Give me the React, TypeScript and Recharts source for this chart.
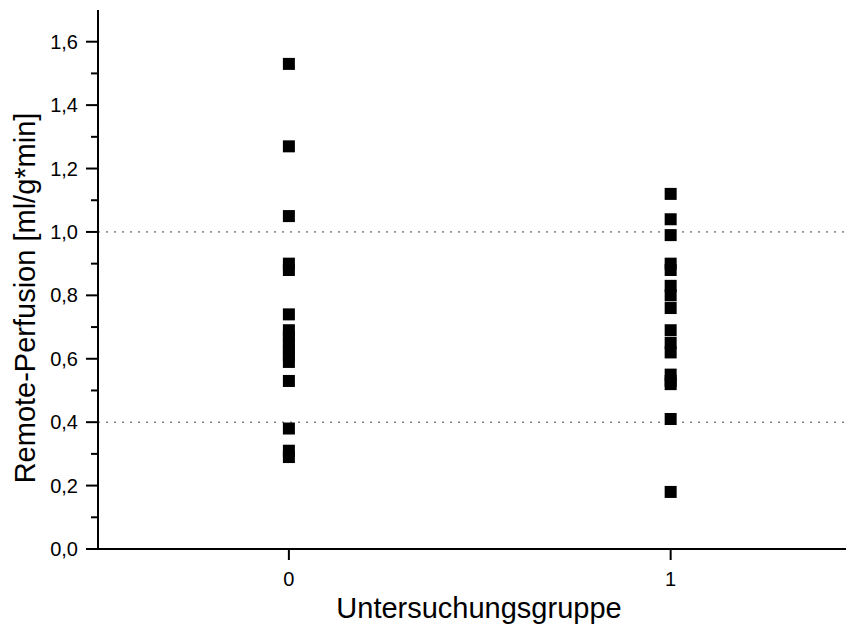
import { ScatterChart, Scatter, XAxis, YAxis, ReferenceLine } from 'recharts'

// Untersuchungsgruppe 0 und 1, Remote-Perfusion in ml/g*min
const gruppe0 = [1.53, 1.27, 1.05, 0.9, 0.88, 0.74, 0.69, 0.67, 0.65, 0.63, 0.61, 0.59, 0.53, 0.38, 0.31, 0.29]
const gruppe1 = [1.12, 1.04, 0.99, 0.9, 0.88, 0.83, 0.8, 0.76, 0.69, 0.65, 0.62, 0.55, 0.53, 0.52, 0.41, 0.18]

const yTicks = [0, 0.1, 0.2, 0.3, 0.4, 0.5, 0.6, 0.7, 0.8, 0.9, 1.0, 1.1, 1.2, 1.3, 1.4, 1.5, 1.6]
const xTicks = [0, 1]
const refLines = [0.4, 1.0]

const data = [
  ...gruppe0.map((v) => ({ gruppe: 0, wert: v })),
  ...gruppe1.map((v) => ({ gruppe: 1, wert: v })),
]

const font = 'Liberation Sans, Arial, sans-serif'

// Haupt-Ticks alle 0,2 mit Beschriftung, Neben-Ticks dazwischen
const YTick = (props: any) => {
  const { x, y, payload } = props
  const v = payload.value
  const major = Math.round(v * 10) % 2 === 0
  return (
    <g>
      <line x1={x - (major ? 12 : 7)} x2={x} y1={y} y2={y} stroke="#000" strokeWidth={2} />
      {major && (
        <text x={x - 20} y={y} dy={7} textAnchor="end" fontSize={20} fontFamily={font} fill="#000">
          {v.toFixed(1).replace('.', ',')}
        </text>
      )}
    </g>
  )
}

const XTick = (props: any) => {
  const { x, y, payload } = props
  return (
    <g>
      <line x1={x} x2={x} y1={y} y2={y + 11} stroke="#000" strokeWidth={2} />
      <text x={x} y={y + 37} textAnchor="middle" fontSize={20} fontFamily={font} fill="#000">
        {payload.value}
      </text>
    </g>
  )
}

const Square = (props: any) => (
  <rect x={props.cx - 6} y={props.cy - 6} width={12} height={12} fill="#000" />
)

const XTitle = (props: any) => {
  const { viewBox } = props
  return (
    <text x={viewBox.x + viewBox.width / 2 + 4} y={610} textAnchor="middle" fontSize={29} fontFamily={font} fill="#000">
      Untersuchungsgruppe
    </text>
  )
}

const YTitle = () => (
  <text x={27} y={290} transform="rotate(-90 27 290)" textAnchor="middle" fontSize={29} fontFamily={font} fill="#000">
    Remote-Perfusion [ml/g*min]
  </text>
)

export default function App() {
  return (
    <ScatterChart width={846} height={625} margin={{ top: 2, right: 2, bottom: 0, left: 0 }}>
      <XAxis
        type="number"
        dataKey="gruppe"
        domain={[-0.5, 1.475]}
        allowDataOverflow
        ticks={xTicks}
        tick={XTick}
        tickLine={false}
        tickSize={0}
        tickMargin={0}
        height={84}
        axisLine={{ stroke: '#000', strokeWidth: 2 }}
        label={{ content: XTitle }}
      />
      <YAxis
        type="number"
        dataKey="wert"
        domain={[0, 1.7]}
        allowDataOverflow
        ticks={yTicks}
        interval={0}
        tick={YTick}
        tickLine={false}
        tickSize={0}
        tickMargin={0}
        width={90}
        axisLine={{ stroke: '#000', strokeWidth: 2 }}
        label={{ content: YTitle }}
      />
      {refLines.map((v) => (
        <ReferenceLine key={v} y={v} stroke="#444" strokeWidth={1} strokeDasharray="2 6" />
      ))}
      <Scatter data={data} shape={Square} isAnimationActive={false} />
    </ScatterChart>
  )
}
